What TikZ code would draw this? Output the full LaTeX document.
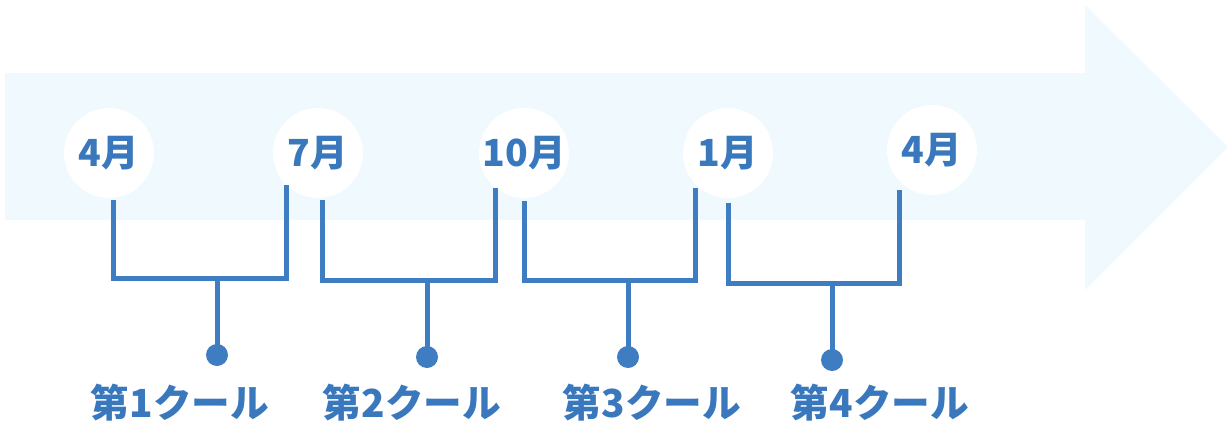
\documentclass[tikz,border=0pt]{standalone}
\usepackage{fontspec}
\newfontfamily\jpfont{Noto Sans CJK JP}
\definecolor{arrowbg}{HTML}{F0F9FD}
\definecolor{lineblue}{HTML}{3F7DC2}
\definecolor{textblue}{HTML}{3A78BD}
\begin{document}
\begin{tikzpicture}[x=0.75pt,y=-0.75pt,
  month/.style={circle,fill=white,minimum size=90*0.75pt,inner sep=0pt,text=textblue,font=\jpfont\bfseries\fontsize{28}{30}\selectfont},
  cour/.style={inner sep=0pt,text=textblue,font=\jpfont\bfseries\fontsize{29}{32}\selectfont},
  brk/.style={draw=lineblue,line width=3.75pt},
  dotb/.style={circle,fill=lineblue,minimum size=22*0.75pt,inner sep=0pt}]
\useasboundingbox (0,0) rectangle (1228,425);
% big arrow
\fill[arrowbg] (5,73) -- (1085,73) -- (1085,5) -- (1228,147) -- (1085,290) -- (1085,220) -- (5,220) -- cycle;
% months
\node[month] (m1) at (109,153) {4月};
\node[month] (m2) at (318,153) {7月};
\node[month] (m3) at (524,153) {10月};
\node[month] (m4) at (728,153) {1月};
\node[month] (m5) at (932,150) {4月};
% bracket tops
\coordinate (a1) at (113,200); \coordinate (b1) at (286,185);
\coordinate (a2) at (322,200); \coordinate (b2) at (495,188);
\coordinate (a3) at (524,201); \coordinate (b3) at (695,188);
\coordinate (a4) at (728,203); \coordinate (b4) at (899,190);
% dots
\node[dotb] (d1) at (217,355) {};
\node[dotb] (d2) at (427,357) {};
\node[dotb] (d3) at (628,357) {};
\node[dotb] (d4) at (832,360) {};
% brackets
\draw[brk] (a1) -- (113,278) -- (286,278) -- (b1);
\draw[brk] (217,278) -- (d1.center);
\draw[brk] (a2) -- (322,280) -- (495,280) -- (b2);
\draw[brk] (427,280) -- (d2.center);
\draw[brk] (a3) -- (524,280) -- (695,280) -- (b3);
\draw[brk] (628,280) -- (d3.center);
\draw[brk] (a4) -- (728,283) -- (899,283) -- (b4);
\draw[brk] (832,283) -- (d4.center);
% labels
\node[cour] (k1) at (180,403) {第1クール};
\node[cour] (k2) at (412,403) {第2クール};
\node[cour] (k3) at (652,403) {第3クール};
\node[cour] (k4) at (880,403) {第4クール};
\end{tikzpicture}
\end{document}
